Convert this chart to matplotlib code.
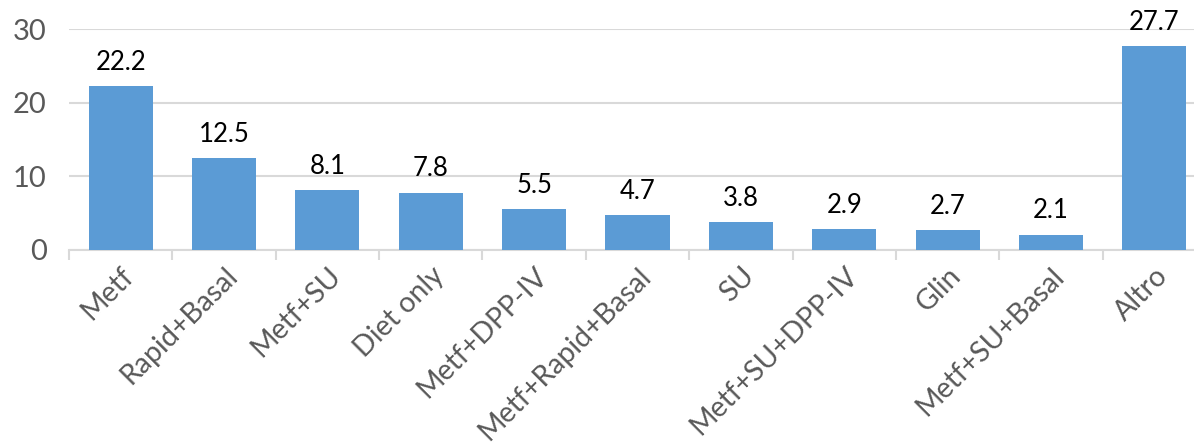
import matplotlib
matplotlib.use("Agg")
import matplotlib.pyplot as plt
import numpy as np

categories = ["Metf", "Rapid+Basal", "Metf+SU", "Diet only", "Metf+DPP-IV",
              "Metf+Rapid+Basal", "SU", "Metf+SU+DPP-IV", "Glin",
              "Metf+SU+Basal", "Altro"]
values = [22.2, 12.5, 8.1, 7.8, 5.5, 4.7, 3.8, 2.9, 2.7, 2.1, 27.7]
y_ticks = [0, 10, 20, 30]

plt.rcParams['font.family'] = ['Lato', 'DejaVu Sans']

fig = plt.figure(figsize=(11.94, 4.45), dpi=100)
ax = fig.add_axes([69 / 1194, 195 / 445, 1137 / 1194, 221 / 445])

x = np.arange(len(categories))
ax.bar(x, values, width=0.62, color="#5B9BD5", zorder=3)

for xi, v in zip(x, values):
    ax.annotate(f"{v:.1f}", (xi, v), xytext=(0, 8), textcoords="offset points",
                ha="center", va="bottom", fontsize=18.5, color="black",
                annotation_clip=False)

ax.set_xlim(-0.5, len(categories) - 0.5)
ax.set_ylim(0, 30)
ax.set_yticks(y_ticks)
ax.tick_params(axis="y", length=0, labelsize=21, labelcolor="#595959", pad=16)
ax.grid(axis="y", color="#D9D9D9", linewidth=1.5, zorder=0)

# boundary ticks as major, labels on minor ticks at bar centres
ax.set_xticks(np.arange(len(categories) + 1) - 0.5)
ax.set_xticklabels([])
ax.set_xticks(x, minor=True)
ax.set_xticklabels(categories, minor=True, rotation=45, ha="right",
                   rotation_mode="anchor", fontsize=20.5, color="#595959")
ax.tick_params(axis="x", which="major", length=7, width=1.5, color="#D9D9D9")
ax.tick_params(axis="x", which="minor", length=0, pad=9)

for side in ["left", "right", "top"]:
    ax.spines[side].set_visible(False)
ax.spines["bottom"].set_color("#D9D9D9")
ax.spines["bottom"].set_linewidth(1.5)

fig.savefig("out.png", dpi=100)
